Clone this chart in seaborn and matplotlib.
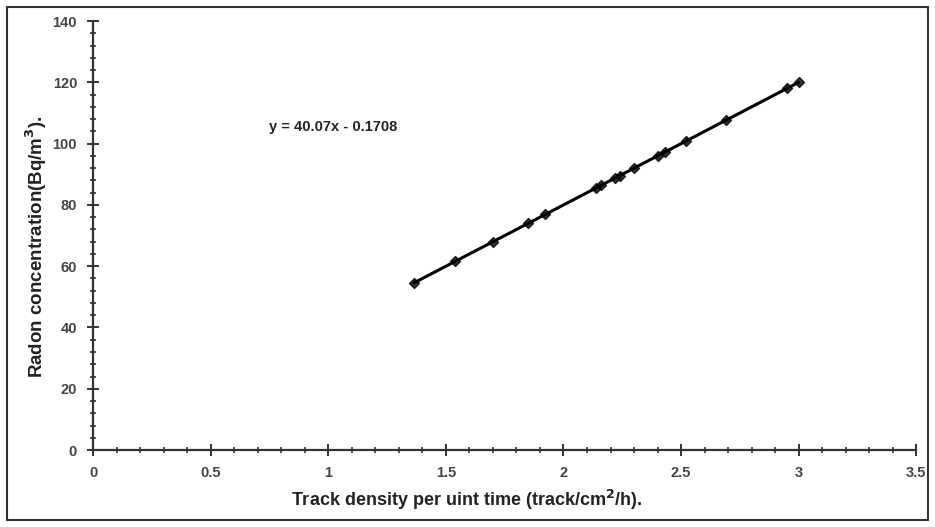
import numpy as np
import pandas as pd
import matplotlib
matplotlib.use('Agg')
import matplotlib.pyplot as plt
from matplotlib.ticker import MultipleLocator
from matplotlib.patches import Rectangle
import seaborn as sns

# values
track_density = [1.365, 1.54, 1.70, 1.85, 1.92, 2.14, 2.16, 2.22, 2.24, 2.30, 2.40, 2.43, 2.52, 2.69, 2.95, 3.00]
radon_conc = [54.5, 61.6, 68.0, 74.0, 76.9, 85.6, 86.4, 88.8, 89.6, 92.0, 96.0, 97.2, 100.8, 107.6, 118.0, 120.0]
fit_label = 'y = 40.07x - 0.1708'

df = pd.DataFrame({'x': track_density, 'y': radon_conc})

sns.set_style('ticks')
plt.rcParams['font.family'] = ['Liberation Sans', 'DejaVu Sans']

fig = plt.figure(figsize=(9.35, 5.27), dpi=100)
ax = fig.add_axes([0.0995, 0.146, 0.8805, 0.814])

# trendline plus diamond markers
sns.regplot(data=df, x='x', y='y', ci=None, ax=ax, marker='D',
            scatter_kws={'s': 26, 'color': 'black', 'edgecolor': 'black'},
            line_kws={'color': 'black', 'linewidth': 2.2})

ax.set_xlim(0, 3.5)
ax.set_ylim(0, 140)
ax.xaxis.set_major_locator(MultipleLocator(0.5))
ax.xaxis.set_minor_locator(MultipleLocator(0.1))
ax.yaxis.set_major_locator(MultipleLocator(20))
ax.yaxis.set_minor_locator(MultipleLocator(4))
ax.set_xticks([0, 0.5, 1, 1.5, 2, 2.5, 3, 3.5])
ax.set_xticklabels(['0', '0.5', '1', '1.5', '2', '2.5', '3', '3.5'])

ax.tick_params(which='major', direction='inout', length=9, width=1.4, colors='#333333',
               labelsize=10.5, labelcolor='#444444', pad=7)
ax.tick_params(which='minor', direction='inout', length=5, width=1.2, colors='#333333')
for lab in ax.get_xticklabels() + ax.get_yticklabels():
    lab.set_fontweight('bold')

sns.despine(ax=ax)
for s in ['left', 'bottom']:
    ax.spines[s].set_linewidth(1.6)
    ax.spines[s].set_color('#333333')

ax.set_xlabel('Track density per uint time (track/cm$^\\mathbf{2}$/h).', fontsize=13,
              fontweight='bold', color='#222222')
ax.set_ylabel('Radon concentration(Bq/m$^\\mathbf{3}$).', fontsize=13.5,
              fontweight='bold', color='#222222')
# labels sit off-centre in the reference
ax.xaxis.set_label_coords(0.454, -0.089)
ax.yaxis.set_label_coords(-0.054, 0.475)

ax.text(0.75, 105.5, fit_label, fontsize=10.5, fontweight='bold', color='#222222',
        va='center', ha='left')

# outer frame around the whole chart
fig.patches.append(Rectangle((0.008, 0.014), 0.984, 0.972, transform=fig.transFigure,
                             fill=False, edgecolor='#333333', linewidth=1.5))

plt.savefig('out.png', dpi=100)
